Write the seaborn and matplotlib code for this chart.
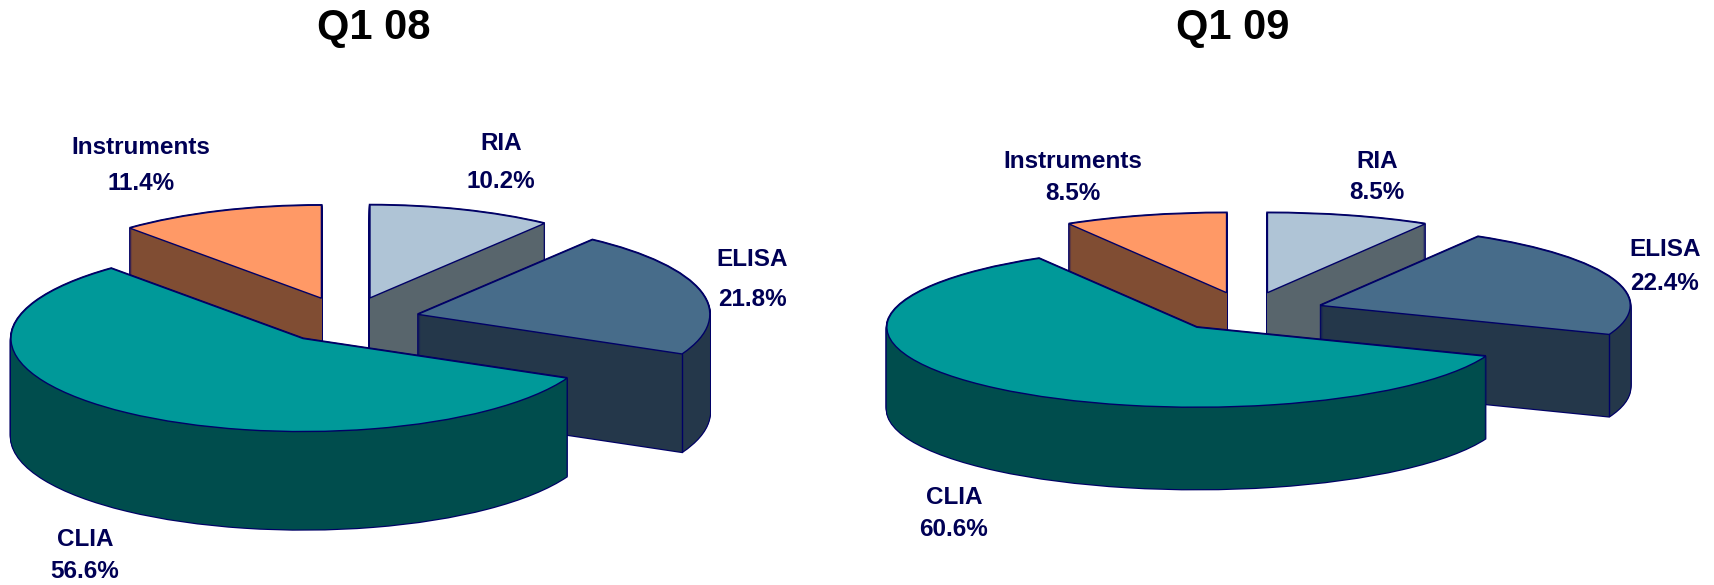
import matplotlib
matplotlib.use("Agg")
import matplotlib.pyplot as plt
import numpy as np
import seaborn as sns

segments = ["RIA", "ELISA", "CLIA", "Instruments"]
q1_08 = [10.2, 21.8, 56.6, 11.4]
q1_09 = [8.5, 22.4, 60.6, 8.5]
titles = ["Q1 08", "Q1 09"]

top_colors = sns.color_palette(["#AFC4D6", "#476C8A", "#009999", "#FF9966"])
wall_colors = sns.color_palette(["#58656C", "#24374A", "#004D4D", "#804D33"])
EDGE = "#000066"
INK = "#000055"

W, H = 1715, 585
sns.set_theme(style="white", font="Liberation Sans")
fig = plt.figure(figsize=(W / 100, H / 100), dpi=100, facecolor="white")

# painter's order: back slices first
rank = {"RIA": 0, "Instruments": 1, "ELISA": 2, "CLIA": 3}


def solid_pie(values, cx, cy, rx, ry, depth):
    ax = fig.add_axes([0, 0, 1, 1])
    ax.patch.set_alpha(0)
    explode = [0.25] * len(values)
    layers = int(depth)
    common = dict(explode=explode, startangle=90, counterclock=False, radius=1, normalize=True)
    for k in range(layers + 1):
        off = -(layers - k) / layers * depth / ry
        for zstep, props in ((1, dict(edgecolor=EDGE, linewidth=1.7)), (2, dict(edgecolor="none", linewidth=0))):
            wedges, _ = ax.pie(values, colors=wall_colors, center=(0, off), wedgeprops=props, **common)
            for name, w in zip(segments, wedges):
                w.set_zorder(rank[name] * 10 + zstep)
    wedges, _ = ax.pie(values, colors=top_colors, center=(0, 0),
                       wedgeprops=dict(edgecolor=EDGE, linewidth=1.0), **common)
    for name, w in zip(segments, wedges):
        w.set_zorder(rank[name] * 10 + 4)
        if name == "ELISA":
            # crease between the rim and the radial wall of the slice
            a = np.radians(w.theta1)
            x = w.center[0] + w.r * np.cos(a)
            y = w.center[1] + w.r * np.sin(a)
            ax.plot([x, x], [y, y - depth / ry], color=EDGE, lw=1.0, zorder=rank[name] * 10 + 3)
    ax.set_aspect("auto")
    ax.set_xlim(-cx / rx, (W - cx) / rx)
    ax.set_ylim(-(H - cy) / ry, cy / ry)
    ax.axis("off")


solid_pie(q1_08, 347, 320, 292, 93, 98)
solid_pie(q1_09, 1247, 312, 310, 80, 82)


def label(x, y, text, size=17.5, color=INK):
    fig.text(x / W, 1 - y / H, text, ha="center", va="center", fontsize=size,
             fontweight="bold", color=color, family="Liberation Sans", zorder=100)


for x, t in zip((374, 1233), titles):
    label(x, 28, t, size=30, color="black")

pos_08 = {"Instruments": (141, 147, 183), "RIA": (501, 143, 182), "ELISA": (752, 260, 299), "CLIA": (85, 539, 572)}
pos_09 = {"Instruments": (1073, 162, 194), "RIA": (1377, 162, 193), "ELISA": (1665, 250, 283), "CLIA": (954, 498, 529)}
for vals, pos in ((q1_08, pos_08), (q1_09, pos_09)):
    for name, v in zip(segments, vals):
        x, y1, y2 = pos[name]
        label(x, y1, name)
        label(x, y2, f"{v:.1f}%")

fig.savefig("out.png", dpi=100)
